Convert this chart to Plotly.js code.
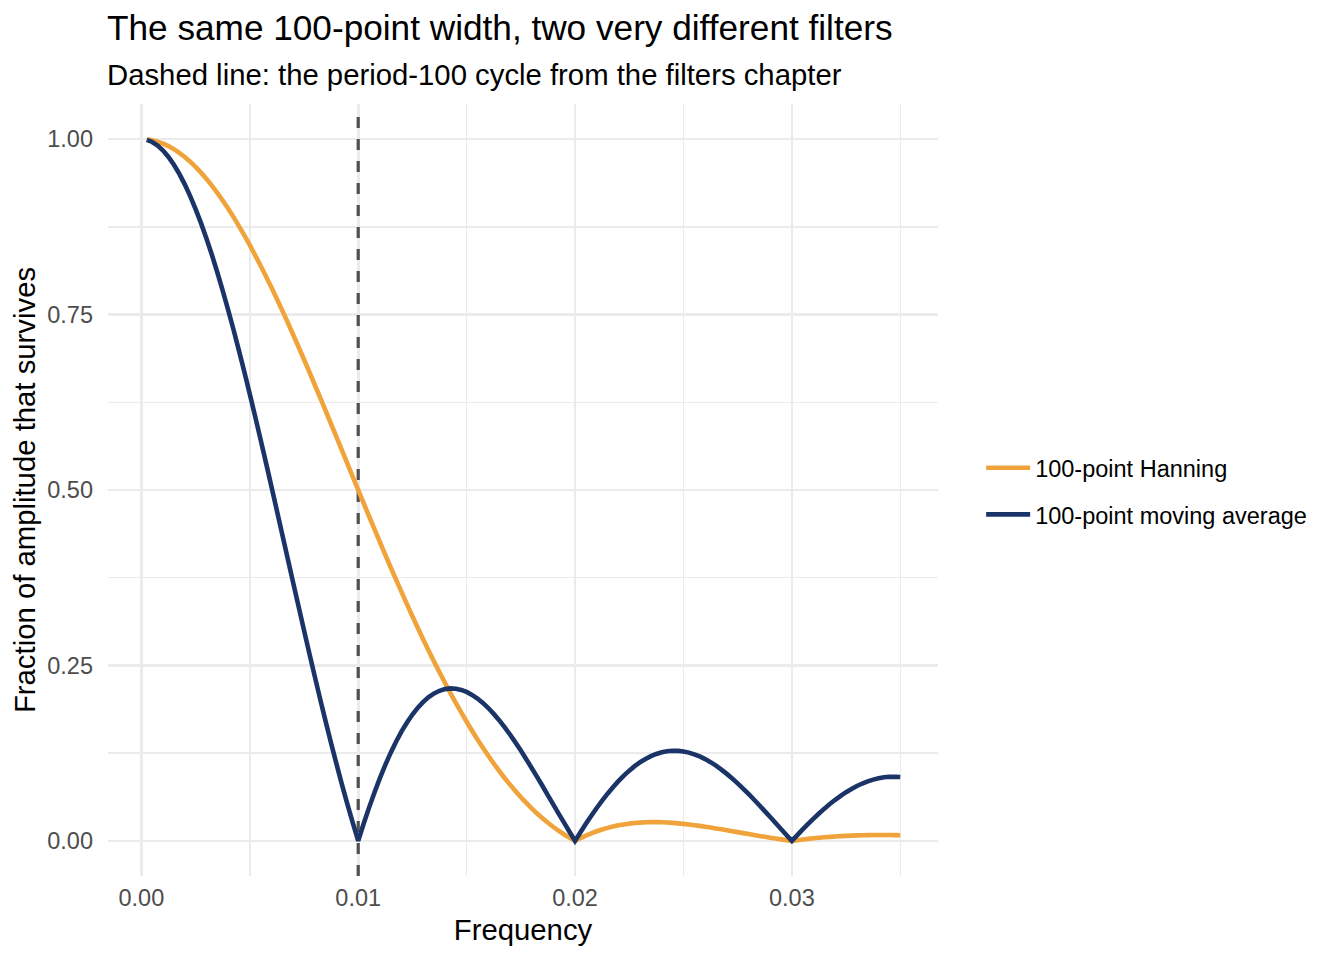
<!DOCTYPE html>
<html>
<head>
<meta charset="utf-8">
<script src="https://cdn.plot.ly/plotly-3.0.1.min.js"></script>
<style>html,body{margin:0;padding:0;background:#fff;}#chart{width:1344px;height:960px;}</style>
</head>
<body>
<div id="chart"></div>
<script>
// Frequencies (cycles per point) read along the x axis
var frequency = [
  0.00025,0.0005,0.00075,0.001,0.00125,0.0015,0.00175,0.002,0.00225,0.0025,
  0.00275,0.003,0.00325,0.0035,0.00375,0.004,0.00425,0.0045,0.00475,0.005,
  0.00525,0.0055,0.00575,0.006,0.00625,0.0065,0.00675,0.007,0.00725,0.0075,
  0.00775,0.008,0.00825,0.0085,0.00875,0.009,0.00925,0.0095,0.00975,0.01,
  0.01025,0.0105,0.01075,0.011,0.01125,0.0115,0.01175,0.012,0.01225,0.0125,
  0.01275,0.013,0.01325,0.0135,0.01375,0.014,0.01425,0.0145,0.01475,0.015,
  0.01525,0.0155,0.01575,0.016,0.01625,0.0165,0.01675,0.017,0.01725,0.0175,
  0.01775,0.018,0.01825,0.0185,0.01875,0.019,0.01925,0.0195,0.01975,0.02,
  0.02025,0.0205,0.02075,0.021,0.02125,0.0215,0.02175,0.022,0.02225,0.0225,
  0.02275,0.023,0.02325,0.0235,0.02375,0.024,0.02425,0.0245,0.02475,0.025,
  0.02525,0.0255,0.02575,0.026,0.02625,0.0265,0.02675,0.027,0.02725,0.0275,
  0.02775,0.028,0.02825,0.0285,0.02875,0.029,0.02925,0.0295,0.02975,0.03,
  0.03025,0.0305,0.03075,0.031,0.03125,0.0315,0.03175,0.032,0.03225,0.0325,
  0.03275,0.033,0.03325,0.0335,0.03375,0.034,0.03425,0.0345,0.03475,0.035];

// 100-point Hanning filter: fraction of amplitude that survives
var hanning = [
  0.9996,0.9984,0.9964,0.9936,0.9900,0.9856,0.9804,0.9745,0.9678,0.9603,
  0.9522,0.9433,0.9337,0.9235,0.9125,0.9010,0.8888,0.8761,0.8627,0.8488,
  0.8344,0.8195,0.8042,0.7884,0.7722,0.7556,0.7386,0.7213,0.7038,0.6860,
  0.6679,0.6496,0.6312,0.6127,0.5940,0.5752,0.5564,0.5375,0.5188,0.5000,
  0.4813,0.4626,0.4442,0.4258,0.4076,0.3896,0.3719,0.3544,0.3371,0.3201,
  0.3034,0.2871,0.2711,0.2554,0.2401,0.2253,0.2108,0.1967,0.1830,0.1698,
  0.1570,0.1446,0.1327,0.1213,0.1103,0.0998,0.0897,0.0802,0.0710,0.0624,
  0.0542,0.0464,0.0391,0.0322,0.0258,0.0198,0.0143,0.0091,0.0044,0.0000,
  0.0040,0.0076,0.0108,0.0137,0.0163,0.0186,0.0205,0.0222,0.0235,0.0246,
  0.0255,0.0261,0.0265,0.0267,0.0267,0.0265,0.0262,0.0257,0.0250,0.0243,
  0.0234,0.0224,0.0214,0.0202,0.0190,0.0178,0.0165,0.0152,0.0138,0.0125,
  0.0111,0.0098,0.0084,0.0071,0.0058,0.0046,0.0034,0.0022,0.0011,0.0000,
  0.0010,0.0020,0.0029,0.0037,0.0045,0.0051,0.0058,0.0063,0.0068,0.0072,
  0.0076,0.0079,0.0081,0.0083,0.0084,0.0084,0.0084,0.0084,0.0083,0.0081];

// 100-point moving average: fraction of amplitude that survives
var movingAverage = [
  0.9990,0.9959,0.9908,0.9836,0.9745,0.9634,0.9504,0.9355,0.9188,0.9003,
  0.8802,0.8584,0.8351,0.8103,0.7842,0.7568,0.7283,0.6987,0.6681,0.6366,
  0.6044,0.5716,0.5383,0.5046,0.4705,0.4364,0.4021,0.3679,0.3339,0.3001,
  0.2668,0.2339,0.2016,0.1700,0.1392,0.1093,0.0803,0.0524,0.0256,0.0000,
  0.0244,0.0474,0.0691,0.0894,0.1083,0.1257,0.1416,0.1560,0.1688,0.1801,
  0.1899,0.1981,0.2049,0.2102,0.2139,0.2163,0.2173,0.2169,0.2152,0.2123,
  0.2081,0.2029,0.1966,0.1893,0.1810,0.1720,0.1621,0.1516,0.1404,0.1287,
  0.1165,0.1040,0.0912,0.0782,0.0650,0.0518,0.0386,0.0256,0.0127,0.0000,
  0.0123,0.0243,0.0358,0.0469,0.0574,0.0673,0.0765,0.0851,0.0930,0.1001,
  0.1065,0.1121,0.1168,0.1208,0.1239,0.1263,0.1278,0.1285,0.1283,0.1275,
  0.1258,0.1234,0.1203,0.1166,0.1122,0.1072,0.1016,0.0955,0.0889,0.0820,
  0.0746,0.0669,0.0590,0.0508,0.0424,0.0340,0.0254,0.0169,0.0084,0.0000,
  0.0083,0.0164,0.0242,0.0318,0.0390,0.0460,0.0525,0.0586,0.0642,0.0694,
  0.0740,0.0782,0.0818,0.0848,0.0873,0.0892,0.0906,0.0913,0.0915,0.0911];

var seriesNames = ["100-point Hanning", "100-point moving average"];
// Reference line: the period-100 cycle, drawn across the whole y range
var periodCycleFrequency = [0.01, 0.01];
var periodCycleSpan = [-0.05, 1.036];
var xTicks = [0, 0.01, 0.02, 0.03];
var yTicks = [0, 0.25, 0.5, 0.75, 1];

var FONT = "Liberation Sans, Arial, Helvetica, sans-serif";

var traces = [
  {x: periodCycleFrequency, y: periodCycleSpan, type: "scatter", mode: "lines",
   showlegend: false, hoverinfo: "skip",
   line: {color: "#505050", width: 3.2, dash: "11px,11px"}},
  {x: frequency, y: hanning, type: "scatter", mode: "lines", name: seriesNames[0],
   legendgroup: "a", line: {color: "#F0A33A", width: 4.6, simplify: false}},
  {x: frequency, y: movingAverage, type: "scatter", mode: "lines", name: seriesNames[1],
   legendgroup: "b", line: {color: "#1B3468", width: 4.6, simplify: false}}
];

var layout = {
  width: 1344, height: 960,
  paper_bgcolor: "#ffffff", plot_bgcolor: "#ffffff",
  margin: {l: 108, r: 406, t: 104, b: 84, pad: 0},
  font: {family: FONT, color: "#000000"},
  title: {
    text: "The same 100-point width, two very different filters",
    font: {family: FONT, size: 35.2, color: "#000000"},
    xref: "container", x: 107/1344, xanchor: "left",
    yref: "container", y: 1 - 28/960, yanchor: "middle"
  },
  annotations: [{
    text: "Dashed line: the period-100 cycle from the filters chapter",
    xref: "paper", yref: "paper", x: -3/830, y: (876-74)/772,
    xanchor: "left", yanchor: "middle", showarrow: false,
    font: {family: FONT, size: 29.3, color: "#000000"}
  }],
  showlegend: true,
  legend: {
    x: 1.052, y: 0.498, xanchor: "left", yanchor: "middle",
    font: {family: FONT, size: 23.5, color: "#000000"},
    traceorder: "grouped", tracegroupgap: 13, itemwidth: 44,
    bgcolor: "rgba(0,0,0,0)", borderwidth: 0
  },
  xaxis: {
    range: [-0.00154, 0.03674],
    tickvals: xTicks, tickformat: ".2f",
    ticks: "", ticklabelstandoff: 5,
    tickfont: {family: FONT, size: 23.5, color: "#4D4D4D"},
    showgrid: true, gridcolor: "#EBEBEB", gridwidth: 2.7,
    minor: {dtick: 0.005, tick0: 0.005, showgrid: true, gridcolor: "#EBEBEB", gridwidth: 1.4},
    zeroline: false, showline: false,
    title: {text: "Frequency", font: {family: FONT, size: 29.3, color: "#000000"}, standoff: 9}
  },
  yaxis: {
    range: [-0.05, 1.05],
    tickvals: yTicks, tickformat: ".2f",
    ticks: "", ticklabelstandoff: 14,
    tickfont: {family: FONT, size: 23.5, color: "#4D4D4D"},
    showgrid: true, gridcolor: "#EBEBEB", gridwidth: 2.7,
    minor: {dtick: 0.125, tick0: 0.125, showgrid: true, gridcolor: "#EBEBEB", gridwidth: 1.4},
    zeroline: false, showline: false,
    title: {text: "Fraction of amplitude that survives", font: {family: FONT, size: 29.3, color: "#000000"}, standoff: 2}
  }
};

Plotly.newPlot("chart", traces, layout, {staticPlot: true, displayModeBar: false});
</script>
</body>
</html>
